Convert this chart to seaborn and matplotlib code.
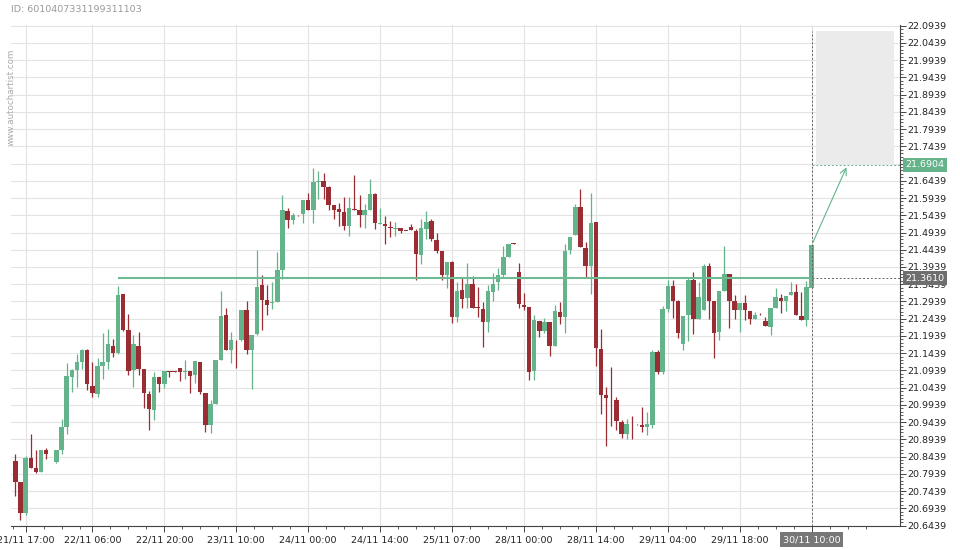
import numpy as np
import pandas as pd
import seaborn as sns
import matplotlib
matplotlib.use("Agg")
import matplotlib.pyplot as plt
import matplotlib.transforms as mtransforms
from matplotlib.patches import Rectangle
from matplotlib.ticker import FixedLocator

# hourly candles
opens = [20.831, 20.769, 20.679, 20.840, 20.811, 20.800, 20.863, 20.852, 20.829, 20.863,
         20.931, 21.076, 21.095, 21.119, 21.153, 21.049, 21.024, 21.107, 21.119, 21.165,
         21.143, 21.316, 21.211, 21.096, 21.165, 21.098, 21.025, 20.980, 21.075, 21.053,
         21.092, 21.092, 21.101, 21.089, 21.092, 21.081, 21.118, 21.028, 20.936, 20.996,
         21.124, 21.255, 21.153, 21.183, 21.181, 21.270, 21.153, 21.200, 21.343, 21.299,
         21.289, 21.291, 21.386, 21.555, 21.531, 21.545, 21.549, 21.587, 21.560, 21.640,
         21.642, 21.625, 21.575, 21.563, 21.552, 21.512, 21.563, 21.560, 21.546, 21.560,
         21.607, 21.519, 21.520, 21.511, 21.505, 21.507, 21.499, 21.510, 21.499, 21.430,
         21.505, 21.528, 21.472, 21.440, 21.371, 21.409, 21.250, 21.327, 21.305, 21.345,
         21.277, 21.273, 21.233, 21.322, 21.349, 21.371, 21.423, 21.463, 21.380, 21.284,
         21.279, 21.093, 21.238, 21.209, 21.234, 21.166, 21.264, 21.248, 21.442, 21.486,
         21.569, 21.449, 21.396, 21.525, 21.157, 21.023, 21.015, 21.007, 20.945, 20.910,
         20.939, 20.938, 20.936, 20.930, 20.936, 21.147, 21.088, 21.273, 21.338, 21.295,
         21.171, 21.255, 21.355, 21.243, 21.268, 21.396, 21.295, 21.205, 21.323, 21.374,
         21.295, 21.268, 21.288, 21.266, 21.242, 21.258, 21.237, 21.220, 21.274, 21.303,
         21.294, 21.312, 21.320, 21.253, 21.239, 21.332]
highs = [20.851, 20.771, 20.846, 20.909, 20.862, 20.864, 20.868, 20.852, 20.864, 20.952,
         21.115, 21.098, 21.141, 21.155, 21.155, 21.118, 21.131, 21.203, 21.213, 21.184,
         21.339, 21.316, 21.257, 21.196, 21.205, 21.098, 21.034, 21.089, 21.075, 21.092,
         21.092, 21.092, 21.101, 21.124, 21.093, 21.121, 21.118, 21.028, 21.009, 21.124,
         21.325, 21.275, 21.205, 21.183, 21.270, 21.294, 21.197, 21.443, 21.370, 21.341,
         21.350, 21.437, 21.604, 21.565, 21.551, 21.545, 21.587, 21.609, 21.681, 21.672,
         21.667, 21.630, 21.575, 21.580, 21.597, 21.597, 21.661, 21.604, 21.576, 21.649,
         21.609, 21.565, 21.541, 21.527, 21.525, 21.507, 21.499, 21.518, 21.504, 21.534,
         21.556, 21.534, 21.492, 21.440, 21.409, 21.412, 21.350, 21.366, 21.405, 21.368,
         21.335, 21.293, 21.342, 21.376, 21.392, 21.454, 21.461, 21.463, 21.406, 21.318,
         21.279, 21.255, 21.238, 21.245, 21.234, 21.284, 21.292, 21.460, 21.482, 21.577,
         21.620, 21.466, 21.608, 21.525, 21.214, 21.046, 21.104, 21.017, 20.951, 20.954,
         20.962, 20.939, 20.988, 20.973, 21.154, 21.154, 21.280, 21.357, 21.357, 21.299,
         21.253, 21.365, 21.379, 21.350, 21.403, 21.406, 21.295, 21.323, 21.454, 21.374,
         21.313, 21.288, 21.313, 21.266, 21.263, 21.259, 21.249, 21.274, 21.334, 21.316,
         21.309, 21.350, 21.345, 21.320, 21.353, 21.457]
lows = [20.730, 20.660, 20.675, 20.810, 20.797, 20.799, 20.837, 20.850, 20.826, 20.851,
        20.909, 21.031, 21.046, 21.099, 21.037, 21.016, 21.016, 21.070, 21.097, 21.132,
        21.141, 21.209, 21.080, 21.046, 21.080, 20.984, 20.920, 20.949, 21.030, 21.043,
        21.075, 21.090, 21.063, 21.070, 21.027, 21.056, 21.025, 20.916, 20.911, 20.996,
        21.124, 21.153, 21.115, 21.102, 21.180, 21.142, 21.040, 21.198, 21.212, 21.255,
        21.272, 21.291, 21.360, 21.507, 21.519, 21.543, 21.522, 21.560, 21.522, 21.591,
        21.591, 21.560, 21.533, 21.514, 21.500, 21.485, 21.559, 21.511, 21.507, 21.560,
        21.504, 21.518, 21.461, 21.481, 21.483, 21.493, 21.497, 21.500, 21.357, 21.402,
        21.474, 21.469, 21.434, 21.356, 21.332, 21.231, 21.235, 21.276, 21.274, 21.276,
        21.248, 21.162, 21.206, 21.295, 21.326, 21.365, 21.422, 21.461, 21.274, 21.269,
        21.066, 21.066, 21.192, 21.202, 21.137, 21.164, 21.229, 21.202, 21.432, 21.486,
        21.451, 21.364, 21.315, 21.106, 20.967, 20.874, 20.934, 20.922, 20.898, 20.895,
        20.895, 20.936, 20.915, 20.905, 20.927, 21.083, 21.083, 21.262, 21.247, 21.189,
        21.152, 21.178, 21.200, 21.243, 21.268, 21.243, 21.131, 21.181, 21.323, 21.218,
        21.243, 21.205, 21.239, 21.229, 21.242, 21.256, 21.222, 21.197, 21.274, 21.260,
        21.266, 21.312, 21.256, 21.239, 21.222, 21.332]
closes = [20.769, 20.679, 20.840, 20.812, 20.800, 20.863, 20.851, 20.850, 20.863, 20.930,
          21.078, 21.095, 21.119, 21.153, 21.053, 21.027, 21.107, 21.119, 21.171, 21.143,
          21.313, 21.211, 21.093, 21.171, 21.099, 21.027, 20.982, 21.075, 21.055, 21.092,
          21.089, 21.090, 21.090, 21.092, 21.079, 21.121, 21.032, 20.936, 20.996, 21.124,
          21.252, 21.153, 21.182, 21.181, 21.270, 21.153, 21.197, 21.337, 21.299, 21.284,
          21.292, 21.386, 21.558, 21.531, 21.544, 21.544, 21.587, 21.560, 21.639, 21.643,
          21.625, 21.573, 21.560, 21.554, 21.512, 21.565, 21.560, 21.544, 21.560, 21.607,
          21.522, 21.521, 21.512, 21.506, 21.507, 21.498, 21.498, 21.500, 21.431, 21.507,
          21.525, 21.475, 21.440, 21.371, 21.409, 21.250, 21.324, 21.302, 21.345, 21.276,
          21.275, 21.233, 21.324, 21.345, 21.371, 21.423, 21.461, 21.461, 21.286, 21.279,
          21.090, 21.240, 21.209, 21.235, 21.166, 21.267, 21.248, 21.441, 21.482, 21.569,
          21.451, 21.396, 21.522, 21.158, 21.023, 21.015, 21.013, 20.946, 20.910, 20.939,
          20.937, 20.937, 20.929, 20.939, 21.147, 21.090, 21.273, 21.340, 21.295, 21.202,
          21.253, 21.355, 21.243, 21.307, 21.396, 21.295, 21.202, 21.323, 21.374, 21.295,
          21.268, 21.288, 21.268, 21.242, 21.256, 21.257, 21.222, 21.274, 21.306, 21.295,
          21.309, 21.320, 21.256, 21.239, 21.335, 21.457]

# candle index of each time label
tick_idx = [2, 15, 29, 43, 57, 71, 85, 99, 113, 127, 141, 155]
tick_labels = ["21/11 17:00", "22/11 06:00", "22/11 20:00", "23/11 10:00",
               "24/11 00:00", "24/11 14:00", "25/11 07:00", "28/11 00:00",
               "28/11 14:00", "29/11 04:00", "29/11 18:00", "30/11 10:00"]

level_price = 21.3610
level_start = 20
target_price = 21.6904
zone_top = 22.078
id_text = "ID: 6010407331199311103"
watermark = "www.autochartist.com"

green = "#64b38a"
red = "#992d33"

df = pd.DataFrame({"open": opens, "high": highs, "low": lows, "close": closes})
df["idx"] = np.arange(len(df))
df["up"] = df["close"] >= df["open"]
df["color"] = np.where(df["up"], green, red)
df["body_lo"] = df[["open", "close"]].min(axis=1)
df["body_h"] = np.maximum((df["close"] - df["open"]).abs(), 0.0018)
last = len(df) - 1

sns.set_theme(style="white")
plt.rcParams["font.family"] = ["DejaVu Sans"]

fig = plt.figure(figsize=(9.6, 5.5), dpi=100)
y0, y1 = 20.6439, 22.0950
ax = fig.add_axes([11 / 960, 1 - 525.5 / 550, 889 / 960, (y1 - y0) * 344.7 / 550])

# grid
ax.grid(True, which="major", color="#e3e3e3", lw=0.8)
ax.set_axisbelow(True)

# candles
ax.vlines(df["idx"], df["low"], df["high"], colors=df["color"], lw=0.9, zorder=2)
ax.bar(df["idx"], df["body_h"], bottom=df["body_lo"], width=0.86,
       color=df["color"], lw=0, zorder=3)

# support/resistance level
ax.hlines(level_price, level_start, last, color="#6dba93", lw=1.5, zorder=4)
ax.hlines(level_price, last, last + 30, color="#666666", lw=0.7, ls=(0, (2, 2)), zorder=4)

# forecast zone
ax.add_patch(Rectangle((last + 0.9, target_price), 15.1, zone_top - target_price,
                       facecolor="#ebebeb", edgecolor="none", zorder=1))
ax.vlines(last, y0, zone_top, color="#666666", lw=0.7, ls=(0, (2, 2)), zorder=4)
ax.hlines(target_price, last, last + 30, color=green, lw=0.7, ls=(0, (2, 2)), zorder=4)
ax.annotate("", xy=(last + 7, target_price), xytext=(last, closes[-1]),
            arrowprops=dict(arrowstyle="->", color=green, lw=0.8), zorder=5)

ax.set_xlim(-0.84, last + 17.2)
ax.set_ylim(y0, y1)

# axes styling
for s in ["left", "top"]:
    ax.spines[s].set_visible(False)
for s in ["right", "bottom"]:
    ax.spines[s].set_color("#444444")
    ax.spines[s].set_linewidth(0.8)

ax.yaxis.tick_right()
yt = np.round(np.arange(y0, 22.1, 0.05), 4)
ax.set_yticks(yt)
ax.set_yticklabels([f"{v:.4f}" for v in yt])
ax.yaxis.set_minor_locator(FixedLocator(np.arange(y0, 22.1, 0.01)))
ax.set_xticks(tick_idx)
ax.set_xticklabels(tick_labels)
minor_x = [t + k * 3.5 for t in [tick_idx[0] - 13] + tick_idx for k in (1, 2, 3)]
ax.xaxis.set_minor_locator(FixedLocator(minor_x))
ax.tick_params(axis="both", which="major", length=4, width=0.7, color="#444444",
               labelsize=6.8, labelcolor="#222222")
ax.tick_params(axis="both", which="minor", length=2, width=0.6, color="#444444")
ax.tick_params(axis="y", which="both", right=True, left=False, pad=1.5)
ax.tick_params(axis="x", which="both", bottom=True, pad=3)

lbl = ax.get_xticklabels()[-1]
lbl.set_color("white")
lbl.set_bbox(dict(boxstyle="square,pad=0.3", facecolor="#777777", edgecolor="none"))

# price tags on the right axis
tr = mtransforms.blended_transform_factory(ax.transAxes, ax.transData)
ax.text(1.0065, target_price, f"{target_price:.4f}", transform=tr, color="white",
        fontsize=6.8, va="center", ha="left", zorder=10,
        bbox=dict(boxstyle="square,pad=0.25", facecolor=green, edgecolor="none"))
ax.text(1.0065, level_price, f"{level_price:.4f}", transform=tr, color="white",
        fontsize=6.8, va="center", ha="left", zorder=10,
        bbox=dict(boxstyle="square,pad=0.25", facecolor="#6e6e6e", edgecolor="none"))

fig.text(11 / 960, 1 - 10 / 550, id_text, fontsize=6.8, color="#999999", va="center")
fig.text(11 / 960, 1 - 97 / 550, watermark, rotation=90, fontsize=6.3, color="#aaaaaa",
         ha="center", va="center")

fig.savefig("out.png", dpi=100)
